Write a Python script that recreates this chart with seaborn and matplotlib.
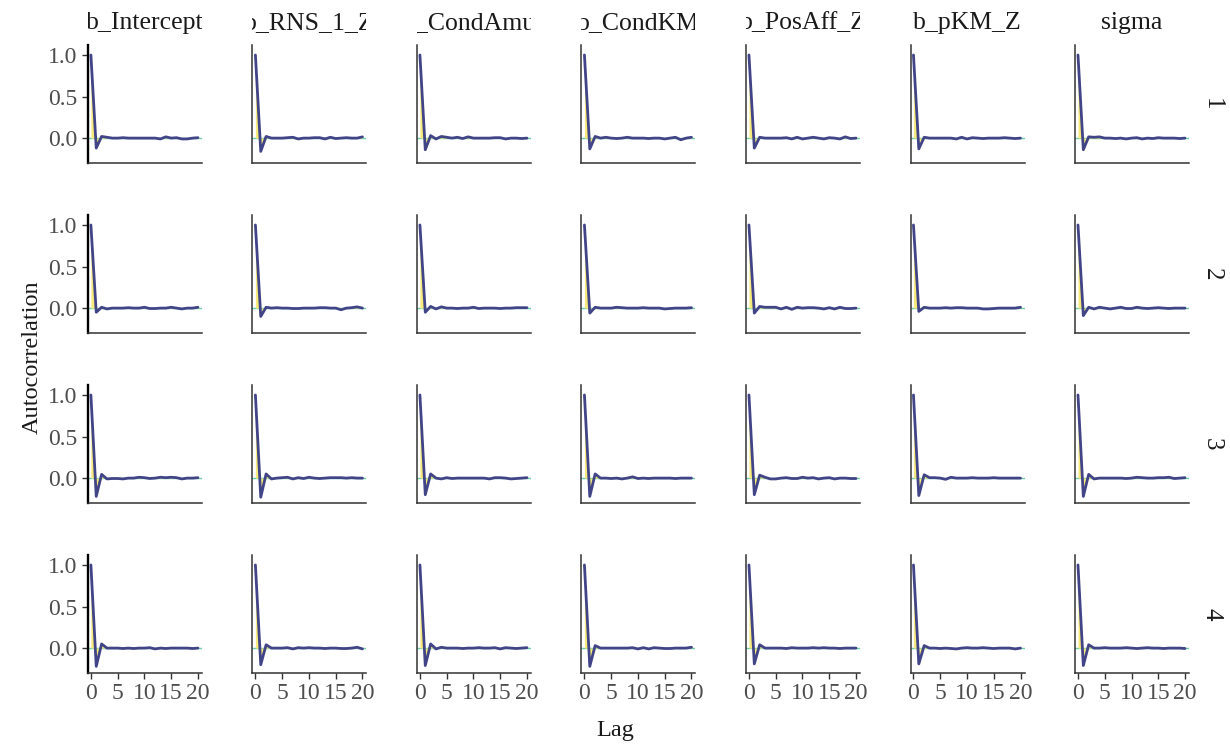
import numpy as np
import pandas as pd
import matplotlib
matplotlib.use("Agg")
import matplotlib.pyplot as plt
from matplotlib.transforms import Bbox, TransformedBbox
import seaborn as sns

# Parameters (columns) and chains (rows)
params = ["b_Intercept", "b_RNS_1_Z", "b_CondAmus", "b_CondKM",
          "b_PosAff_Z", "b_pKM_Z", "sigma"]
chains = ["1", "2", "3", "4"]
lags = list(range(21))

# Autocorrelation by lag, one list per parameter, for each chain
acf_chain1 = [
    [1.00, -0.12, 0.02, 0.01, 0.00, 0.00, 0.005, 0.00, 0.00, 0.00, 0.00, 0.00, 0.00, -0.01, 0.015, 0.00, 0.005, -0.01, -0.01, 0.00, 0.005],
    [1.00, -0.16, 0.02, 0.00, 0.00, 0.00, 0.005, 0.01, -0.01, 0.00, 0.00, 0.005, 0.005, -0.01, 0.01, -0.005, 0.00, 0.005, 0.00, 0.00, 0.015],
    [1.00, -0.14, 0.03, -0.01, 0.02, 0.01, 0.00, 0.01, -0.005, 0.015, 0.00, 0.00, 0.00, 0.00, 0.005, 0.005, -0.01, 0.00, 0.00, -0.005, 0.00],
    [1.00, -0.13, 0.02, 0.00, 0.01, 0.00, -0.005, 0.00, 0.01, 0.00, 0.00, 0.00, -0.005, 0.00, 0.00, -0.01, 0.00, 0.01, -0.02, 0.00, 0.01],
    [1.00, -0.12, 0.01, 0.00, 0.00, 0.00, 0.00, 0.005, -0.01, 0.01, -0.01, 0.00, 0.01, 0.00, -0.01, 0.005, 0.00, -0.01, 0.015, -0.005, 0.00],
    [1.00, -0.13, 0.01, 0.00, 0.00, 0.00, 0.00, 0.00, -0.01, 0.01, -0.01, 0.005, 0.00, -0.005, 0.00, 0.00, 0.00, 0.005, 0.00, -0.005, 0.00],
    [1.00, -0.14, 0.015, 0.01, 0.015, 0.00, 0.00, -0.005, 0.00, -0.01, 0.00, 0.005, -0.01, 0.00, -0.005, 0.005, 0.00, 0.00, 0.00, -0.005, 0.00],
]
acf_chain2 = [
    [1.00, -0.05, 0.01, -0.01, 0.00, 0.00, 0.00, 0.005, 0.00, 0.00, 0.01, -0.005, -0.005, 0.00, 0.00, 0.01, 0.00, -0.01, 0.00, 0.00, 0.01],
    [1.00, -0.10, 0.01, 0.00, 0.005, 0.00, 0.00, -0.005, -0.005, 0.00, 0.00, 0.00, 0.005, 0.005, 0.00, 0.00, -0.02, 0.00, 0.005, 0.015, 0.00],
    [1.00, -0.05, 0.02, -0.01, 0.015, 0.00, 0.00, -0.005, 0.00, 0.00, 0.01, -0.005, 0.00, 0.00, 0.00, -0.005, 0.00, 0.00, 0.005, 0.005, 0.005],
    [1.00, -0.06, 0.01, 0.00, 0.00, 0.00, 0.01, 0.005, 0.00, 0.00, 0.00, 0.005, 0.00, 0.00, 0.00, -0.01, -0.005, 0.00, 0.00, 0.00, 0.005],
    [1.00, -0.06, 0.02, 0.01, 0.01, 0.01, -0.01, 0.01, -0.015, 0.01, 0.00, 0.005, 0.005, 0.00, -0.01, 0.005, -0.01, 0.01, -0.005, -0.005, 0.00],
    [1.00, -0.04, 0.01, 0.00, 0.00, 0.00, 0.005, 0.00, 0.005, 0.005, 0.00, 0.00, 0.00, -0.01, -0.01, -0.005, 0.00, 0.00, 0.00, 0.00, 0.01],
    [1.00, -0.09, 0.01, -0.01, 0.01, 0.00, -0.01, 0.00, 0.01, -0.005, -0.005, 0.01, 0.00, -0.005, 0.00, 0.005, 0.00, -0.005, 0.00, 0.00, 0.00],
]
acf_chain3 = [
    [1.00, -0.22, 0.045, -0.01, -0.005, -0.005, -0.01, 0.00, 0.00, 0.01, 0.005, -0.005, 0.00, 0.01, 0.005, 0.01, 0.005, -0.01, 0.00, 0.00, 0.005],
    [1.00, -0.23, 0.05, -0.01, 0.00, 0.005, 0.01, -0.01, 0.005, -0.005, 0.01, 0.00, -0.005, 0.00, 0.005, 0.005, 0.005, 0.00, 0.005, 0.00, 0.00],
    [1.00, -0.20, 0.05, 0.00, -0.01, 0.005, -0.005, 0.00, 0.00, 0.00, 0.00, 0.00, 0.00, -0.01, 0.005, 0.005, 0.00, -0.01, -0.005, 0.00, 0.005],
    [1.00, -0.22, 0.05, 0.00, 0.00, -0.005, 0.00, -0.01, 0.00, 0.015, -0.005, 0.00, -0.005, 0.00, 0.00, 0.00, 0.00, -0.005, 0.00, 0.00, 0.00],
    [1.00, -0.20, 0.035, 0.01, -0.01, -0.01, 0.00, 0.005, -0.005, -0.005, 0.01, 0.00, 0.005, -0.01, 0.00, 0.005, -0.01, 0.00, 0.00, -0.005, -0.005],
    [1.00, -0.21, 0.04, 0.005, 0.005, 0.00, -0.015, 0.01, 0.00, 0.00, 0.00, 0.005, 0.00, 0.00, 0.00, 0.005, 0.00, 0.00, 0.00, 0.00, 0.00],
    [1.00, -0.22, 0.045, -0.01, 0.00, 0.00, 0.00, 0.00, 0.00, -0.005, 0.00, 0.01, 0.005, 0.00, 0.00, 0.005, 0.005, 0.01, -0.005, 0.00, 0.005],
]
acf_chain4 = [
    [1.00, -0.22, 0.05, 0.00, 0.00, 0.00, -0.005, 0.00, -0.005, 0.00, 0.00, 0.005, -0.01, 0.00, -0.005, 0.00, 0.00, 0.00, 0.00, -0.005, 0.00],
    [1.00, -0.20, 0.04, 0.00, 0.00, 0.00, 0.005, -0.01, 0.005, 0.00, 0.005, 0.00, 0.00, -0.005, 0.00, 0.00, -0.005, -0.005, 0.00, 0.01, -0.01],
    [1.00, -0.21, 0.05, -0.01, 0.01, 0.00, 0.00, 0.00, -0.005, 0.00, 0.00, 0.005, 0.00, 0.00, 0.005, -0.01, 0.005, 0.00, -0.005, 0.00, 0.005],
    [1.00, -0.22, 0.03, 0.00, 0.00, 0.00, 0.00, 0.00, 0.00, 0.005, -0.01, 0.005, -0.01, 0.005, 0.00, -0.005, -0.005, 0.00, 0.00, 0.00, 0.01],
    [1.00, -0.19, 0.04, 0.00, 0.00, 0.00, 0.00, -0.005, 0.005, 0.00, 0.00, 0.00, 0.005, 0.00, 0.005, 0.00, 0.00, -0.005, 0.00, 0.00, 0.00],
    [1.00, -0.19, 0.03, 0.00, 0.00, -0.005, 0.00, -0.005, -0.01, 0.00, 0.005, 0.00, 0.00, 0.005, 0.00, -0.005, 0.00, 0.00, 0.00, -0.01, 0.00],
    [1.00, -0.21, 0.04, 0.00, 0.00, 0.005, 0.00, 0.00, 0.00, 0.005, 0.00, -0.005, 0.00, 0.005, 0.00, 0.00, -0.005, 0.00, 0.00, 0.00, -0.005],
]

y_ticks = [0.0, 0.5, 1.0]
y_tick_labels = ["0.0", "0.5", "1.0"]
x_ticks = [0, 5, 10, 15, 20]
x_tick_labels = ["0", "5", "10", "15", "20"]

# Long-form table for seaborn
rows = []
for chain, acf_lists in zip(chains, [acf_chain1, acf_chain2, acf_chain3, acf_chain4]):
    for param, values in zip(params, acf_lists):
        for lag, v in zip(lags, values):
            rows.append({"Chain": chain, "Parameter": param, "Lag": lag, "AC": v})
df = pd.DataFrame(rows)

sns.set_theme(style="white")
plt.rcParams["font.family"] = ["Liberation Serif", "DejaVu Serif"]

LINE_COLOR = "#414487"
FILL_COLOR = "#F6EA7C"
ZERO_COLOR = "#6CCFA8"
TICK_COLOR = "#4D4D4D"

fig, axes = plt.subplots(4, 7, figsize=(12.3, 7.45), dpi=100,
                         sharex=True, sharey=True)
fig.subplots_adjust(left=0.0715, right=0.9667, top=0.9396, bottom=0.0966,
                    wspace=0.443, hspace=0.44)

for i, chain in enumerate(chains):
    for j, param in enumerate(params):
        ax = axes[i, j]
        sub = df[(df["Chain"] == chain) & (df["Parameter"] == param)]
        ax.axhline(0, color=ZERO_COLOR, lw=1.0, zorder=1)
        ax.fill_between(sub["Lag"], sub["AC"], 0, color=FILL_COLOR,
                        linewidth=0, zorder=2)
        sns.lineplot(data=sub, x="Lag", y="AC", ax=ax, color=LINE_COLOR,
                     lw=2.0, zorder=3)
        ax.set_xlim(-0.55, 20.75)
        ax.set_ylim(-0.30, 1.12)
        ax.set_xlabel("")
        ax.set_ylabel("")
        ax.set_facecolor("white")
        for s in ["top", "right"]:
            ax.spines[s].set_visible(False)
        ax.spines["bottom"].set_color("#333333")
        ax.spines["bottom"].set_linewidth(1.1)
        if j == 0:
            ax.spines["left"].set_color("black")
            ax.spines["left"].set_linewidth(1.7)
        else:
            ax.spines["left"].set_color("#333333")
            ax.spines["left"].set_linewidth(1.1)
        ax.set_xticks(x_ticks)
        ax.set_yticks(y_ticks)
        ax.tick_params(axis="both", which="both", length=4, width=1.0,
                       color="#333333", labelcolor=TICK_COLOR,
                       labelsize=17, pad=3.5)
        ax.tick_params(axis="x", bottom=(i == 3), labelbottom=(i == 3))
        ax.tick_params(axis="y", left=(j == 0), labelleft=(j == 0))
        if i == 3:
            ax.set_xticklabels(x_tick_labels)
        if j == 0:
            ax.set_yticklabels(y_tick_labels)

        # facet strip labels, clipped to the strip width
        if i == 0:
            t = ax.text(0.5, 1.19, param, transform=ax.transAxes,
                        ha="center", va="center", fontsize=18.5,
                        color="#1A1A1A")
            strip = TransformedBbox(Bbox([[0, 1.0], [1, 1.45]]), ax.transAxes)
            t.set_clip_box(strip)
            t.set_clip_on(True)
        if j == len(params) - 1:
            ax.text(1.2, 0.5, chain, transform=ax.transAxes, rotation=-90,
                    ha="center", va="center", fontsize=18, color="#1A1A1A")

fig.text(0.5, 0.02, "Lag", ha="center", va="center", fontsize=17.5,
         color="#1A1A1A")
fig.text(0.026, 0.52, "Autocorrelation", ha="center", va="center",
         rotation=90, fontsize=17.5, color="#1A1A1A")

fig.savefig("out.png", dpi=100, facecolor="white")
